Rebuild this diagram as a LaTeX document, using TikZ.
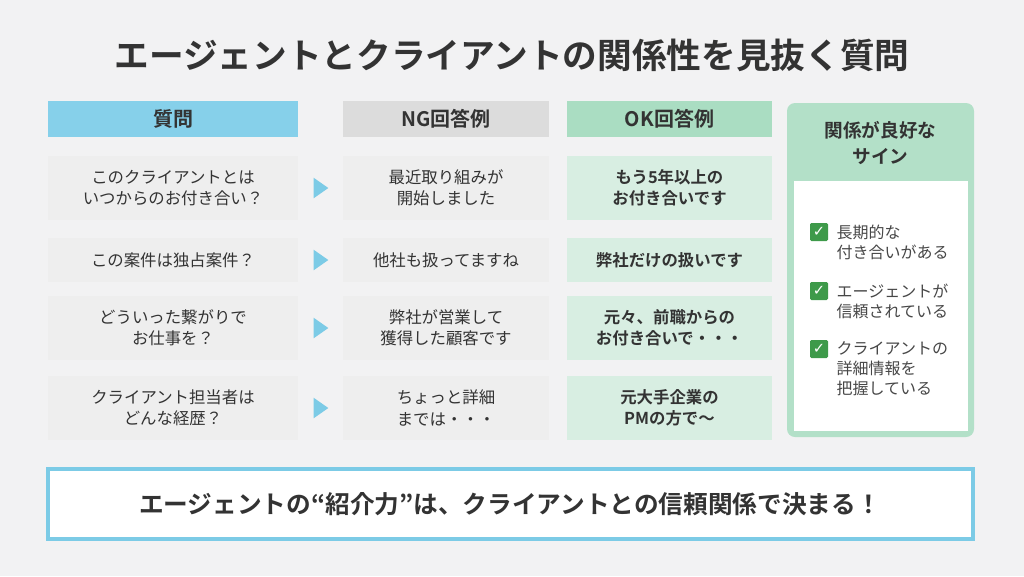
\documentclass[tikz,border=0pt]{standalone}
\usepackage{fontspec}
\setmainfont{Noto Sans CJK JP}[BoldFont={Noto Sans CJK JP Bold}]
\newfontfamily\symfont{DejaVu Sans}
\usetikzlibrary{shapes.geometric}
\definecolor{bg}{HTML}{F2F2F3}
\definecolor{qhead}{HTML}{86D0EA}
\definecolor{nghead}{HTML}{DCDCDC}
\definecolor{okhead}{HTML}{AADDC2}
\definecolor{cell}{HTML}{EEEEEE}
\definecolor{okcell}{HTML}{D8EEE2}
\definecolor{panel}{HTML}{B3E0C8}
\definecolor{txt}{HTML}{333333}
\definecolor{arr}{HTML}{7CCBE6}
\definecolor{chk}{HTML}{3E9A4A}
\begin{document}
\begin{tikzpicture}[x=0.75pt,y=-0.75pt,
  hd/.style={fill=#1,draw=none,text=txt,font=\fontsize{15}{16}\selectfont\bfseries,anchor=center},
  cl/.style={fill=#1,draw=none,text=txt,align=center,font=\fontsize{12.3}{16}\selectfont},
  okt/.style={cl=okcell,font=\fontsize{12.3}{16}\selectfont\bfseries},
  tri/.style={fill=arr,draw=none,isosceles triangle,isosceles triangle apex angle=70,minimum width=14pt,minimum height=11pt,inner sep=0pt},
  ck/.style={fill=chk,draw=none,rounded corners=1pt,minimum size=13.5pt,inner sep=0pt,text=white,font=\symfont\bfseries\fontsize{11}{11}\selectfont},
  st/.style={anchor=north west,align=left,text=txt!90,font=\fontsize{12}{15}\selectfont}]
\fill[bg] (0,0) rectangle (1024,576);
\useasboundingbox (0,0) rectangle (1024,576);
\node[text=txt,font=\fontsize{26}{28}\selectfont\bfseries] (title) at (512,55) {エージェントとクライアントの関係性を見抜く質問};
% headers
\node[hd=qhead,minimum width=250*0.75pt,minimum height=36*0.75pt] (h1) at (173,119) {質問};
\node[hd=nghead,minimum width=206*0.75pt,minimum height=36*0.75pt] (h2) at (446,119) {NG回答例};
\node[hd=okhead,minimum width=205*0.75pt,minimum height=36*0.75pt] (h3) at (669.5,119) {OK回答例};
% rows
\foreach \n/\y/\h/\q/\ng/\ok in {
 1/188/64/{このクライアントとは\\いつからのお付き合い？}/{最近取り組みが\\開始しました}/{もう5年以上の\\お付き合いです},
 2/260/44/{この案件は独占案件？}/{他社も扱ってますね}/{弊社だけの扱いです},
 3/328/64/{どういった繋がりで\\お仕事を？}/{弊社が営業して\\獲得した顧客です}/{元々、前職からの\\お付き合いで・・・},
 4/408/64/{クライアント担当者は\\どんな経歴？}/{ちょっと詳細\\までは・・・}/{元大手企業の\\PMの方で〜}}{
  \node[cl=cell,minimum width=250*0.75pt,minimum height=\h*0.75pt] (q\n) at (173,\y) {\q};
  \node[cl=cell,minimum width=206*0.75pt,minimum height=\h*0.75pt] (n\n) at (446,\y) {\ng};
  \node[okt,minimum width=205*0.75pt,minimum height=\h*0.75pt] (o\n) at (669.5,\y) {\ok};
  \node[tri] (t\n) at (319,\y) {};
}
% right panel
\fill[panel,rounded corners=6pt] (787,103) rectangle (974,437);
\node[text=txt,align=center,font=\fontsize{14}{20}\selectfont\bfseries] (ph) at (880.5,143) {関係が良好な\\サイン};
\fill[white] (794,181) rectangle (968,431);
\node[ck] (c1) at (819,232) {✓};
\node[st] (s1) at (832,220) {長期的な\\付き合いがある};
\node[ck] (c2) at (819,291) {✓};
\node[st] (s2) at (832,279) {エージェントが\\信頼されている};
\node[ck] (c3) at (819,349) {✓};
\node[st] (s3) at (832,337) {クライアントの\\詳細情報を\\把握している};
% bottom
\node[draw=arr,line width=3pt,fill=white,minimum width=925*0.75pt,minimum height=70*0.75pt,text=txt,font=\fontsize{18.5}{20}\selectfont\bfseries] (bot) at (510,504) {エージェントの“紹介力”は、クライアントとの信頼関係で決まる！};
\end{tikzpicture}
\end{document}
